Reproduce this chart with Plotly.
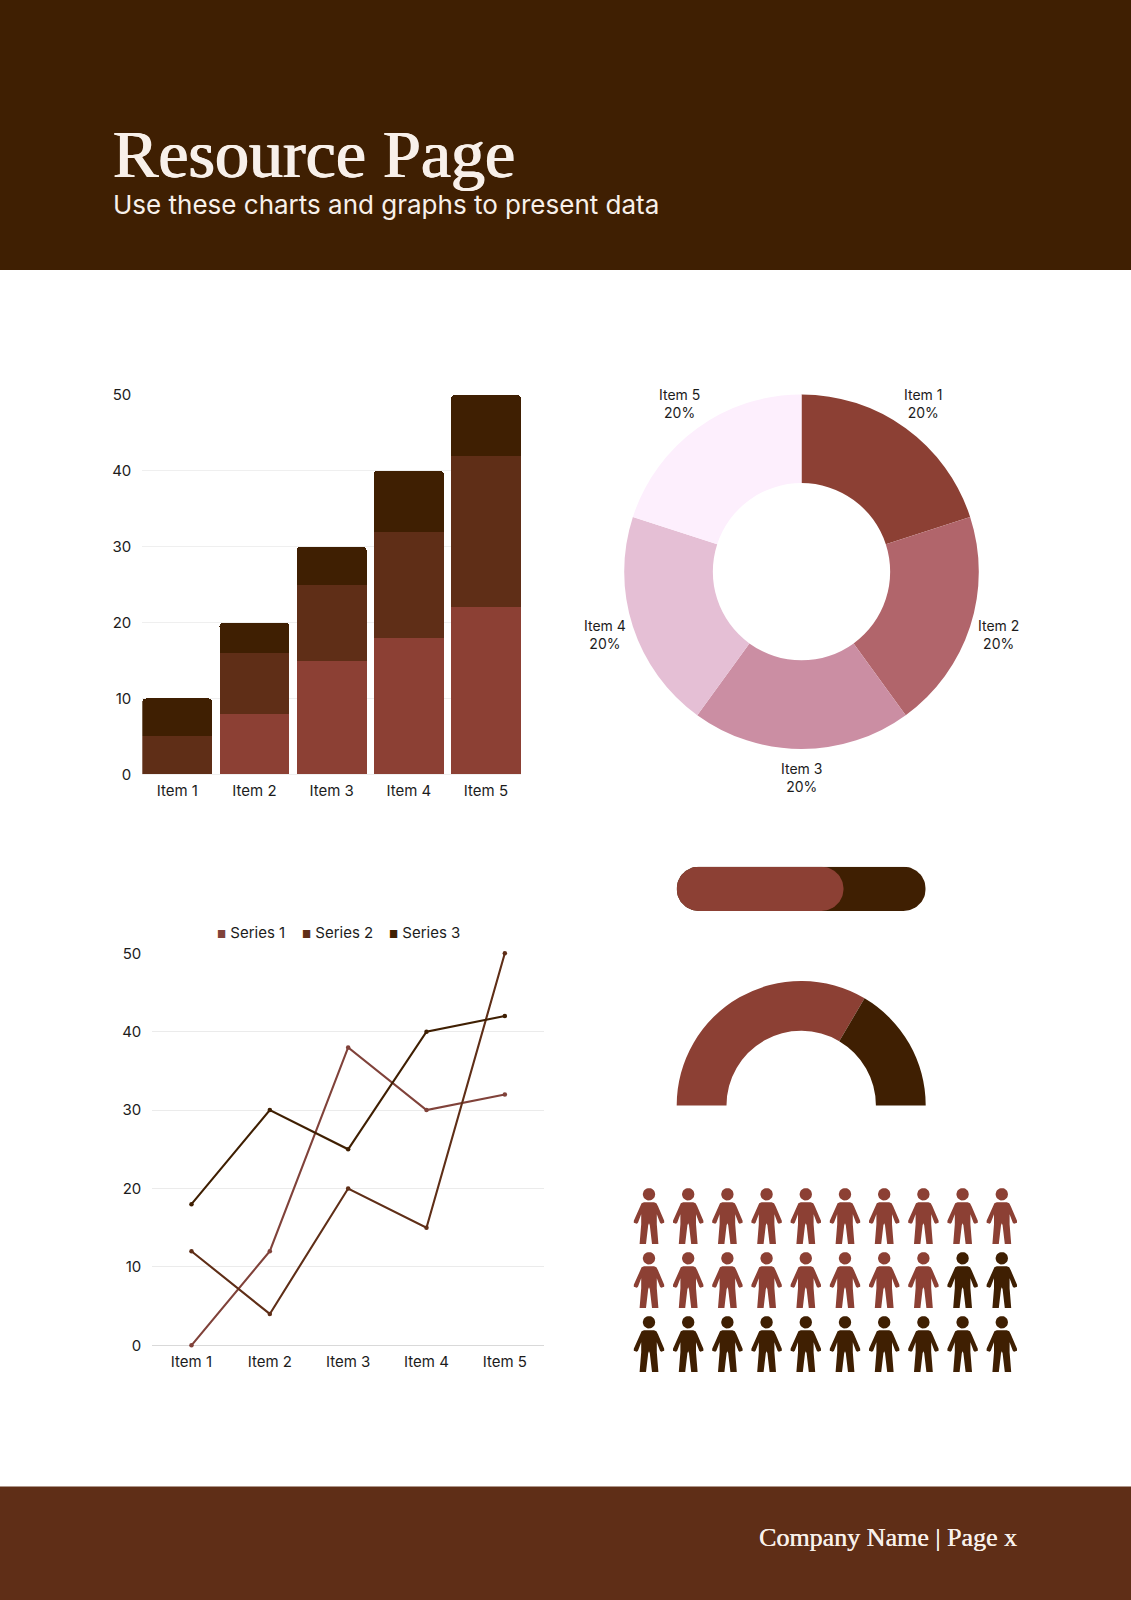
import numpy as np
import plotly.graph_objects as go

W = 1131
H = 1600

# colours
DARK = '#3F1F02'
MID = '#5F2E17'
RED = '#8C4034'
CREAM = '#F8F0EA'
TEXT = '#1C1C1C'
GRID = '#EFEFEF'

# stacked bars
bar_items = ['Item 1', 'Item 2', 'Item 3', 'Item 4', 'Item 5']
bar_series_1 = [0, 8, 15, 18, 22]
bar_series_2 = [5, 8, 10, 14, 20]
bar_series_3 = [5, 4, 5, 8, 8]
y_ticks = [0, 10, 20, 30, 40, 50]

# donut
pie_items = ['Item 1', 'Item 2', 'Item 3', 'Item 4', 'Item 5']
pie_values = [20, 20, 20, 20, 20]
pie_colors = ['#8C4034', '#B1656B', '#CB8EA3', '#E5BFD5', '#FDEFFD']
pie_label_x = [923, 998, 801.5, 605, 679.5]
pie_label_y = [403.5, 634.5, 777.5, 634.5, 403.5]

# lines
line_items = ['Item 1', 'Item 2', 'Item 3', 'Item 4', 'Item 5']
line_names = ['Series 1', 'Series 2', 'Series 3']
line_series_1 = [0, 12, 38, 30, 32]
line_series_2 = [12, 4, 20, 15, 50]
line_series_3 = [18, 30, 25, 40, 42]

# progress, gauge, people
progress_value = 67
gauge_values = [67, 33]
people_total = 30
people_filled = 18
people_per_row = 10


def dom_x(left, right):
    return [left / W, right / W]


def dom_y(top, bottom):
    return [1 - bottom / H, 1 - top / H]


def pill(start, end, rx):
    # rounded bar from start to end on the 0-100 axis, y axis is 0-1
    t = np.linspace(-np.pi / 2, np.pi / 2, 40)
    xs = np.concatenate((end - rx + rx * np.cos(t), start + rx - rx * np.cos(t)))
    ys = np.concatenate((0.5 + 0.5 * np.sin(t), 0.5 - 0.5 * np.sin(t)))
    return xs, ys


def person_outline():
    # one figure in pixels around its own middle, head centre at y = 0
    t = np.linspace(0, 2 * np.pi, 30)
    head_x = 6.2 * np.cos(t)
    head_y = 6.2 * np.sin(t)
    right = [(0, 8), (5, 8), (7.4, 9), (9, 12), (15.2, 26.5), (15.2, 28.4), (12.2, 29.4),
             (11, 28.4), (7.8, 20), (7.8, 30), (9.4, 49.6), (3, 49.6), (0.8, 31), (0, 29)]
    body_x = [p[0] for p in right] + [-p[0] for p in reversed(right)]
    body_y = [p[1] for p in right] + [p[1] for p in reversed(right)]
    return head_x, head_y, np.array(body_x), np.array(body_y)


def people_xy(indices):
    head_x, head_y, body_x, body_y = person_outline()
    xs, ys = [], []
    for i in indices:
        row, col = divmod(i, people_per_row)
        cx = 649 + col * 39.2
        cy = 64 * row
        xs += list(cx + head_x) + [None] + list(cx + body_x) + [None]
        ys += list(cy + head_y) + [None] + list(cy + body_y) + [None]
    return xs, ys


fig = go.Figure()

# stacked bars
for values, color in zip([bar_series_1, bar_series_2, bar_series_3], [RED, MID, DARK]):
    fig.add_trace(go.Bar(x=bar_items, y=values, marker=dict(color=color, line_width=0, cornerradius=4),
                         xaxis='x', yaxis='y', showlegend=False))

# donut
fig.add_trace(go.Pie(labels=pie_items, values=pie_values, hole=0.5, sort=False, direction='clockwise',
                     rotation=0, marker=dict(colors=pie_colors, line_width=0), textinfo='none',
                     domain=dict(x=dom_x(624.2, 978.8), y=dom_y(394.4, 749)), showlegend=False))

# lines
for name, values, color in zip(line_names, [line_series_1, line_series_2, line_series_3], ['#80423A', MID, DARK]):
    fig.add_trace(go.Scatter(x=line_items, y=values, name=name, mode='lines+markers',
                             line=dict(color=color, width=2.1), marker=dict(color=color, size=4.5),
                             xaxis='x2', yaxis='y2', cliponaxis=False, showlegend=False))

# progress bar
px, py = pill(0, 100, 8.9)
fig.add_trace(go.Scatter(x=px, y=py, mode='lines', fill='toself', fillcolor=DARK, line_width=0,
                         xaxis='x3', yaxis='y3', showlegend=False, hoverinfo='skip'))
px, py = pill(0, progress_value, 8.9)
fig.add_trace(go.Scatter(x=px, y=py, mode='lines', fill='toself', fillcolor=RED, line_width=0,
                         xaxis='x3', yaxis='y3', showlegend=False, hoverinfo='skip'))

# gauge, the lower half of the circle stays empty
fig.add_trace(go.Pie(values=gauge_values + [sum(gauge_values)], hole=0.6, sort=False, direction='clockwise',
                     rotation=270, textinfo='none', hoverinfo='skip',
                     marker=dict(colors=[RED, DARK, 'rgba(0,0,0,0)'], line_width=0),
                     domain=dict(x=dom_x(676.7, 925.7), y=dom_y(981, 1230)), showlegend=False))

# people
for indices, color in [(range(people_filled), RED), (range(people_filled, people_total), DARK)]:
    xs, ys = people_xy(indices)
    fig.add_trace(go.Scatter(x=xs, y=ys, mode='lines', fill='toself', fillcolor=color, line_width=0,
                             xaxis='x4', yaxis='y4', showlegend=False, hoverinfo='skip'))

tick_font = dict(family='Inter', size=15, color=TEXT)
hidden = dict(visible=False, fixedrange=True)

fig.update_layout(
    template='none',
    width=W, height=H, margin=dict(l=0, r=0, t=0, b=0), autosize=False,
    paper_bgcolor='white', plot_bgcolor='rgba(0,0,0,0)', barmode='stack', bargap=0.093,
    xaxis=dict(domain=dom_x(142.3, 521), range=[-0.454, 4.454], showgrid=False, showline=False, zeroline=False,
               tickfont=tick_font, ticklabelstandoff=6, ticks='', fixedrange=True),
    yaxis=dict(domain=dom_y(395, 774.3), range=[0, 50], tickvals=y_ticks, gridcolor=GRID, gridwidth=1,
               zeroline=True, zerolinecolor=GRID, tickfont=tick_font, ticklabelstandoff=10, ticks='',
               showline=False, fixedrange=True),
    xaxis2=dict(domain=dom_x(152.3, 544), range=[-0.5, 4.5], showgrid=False, showline=False, zeroline=False,
                tickfont=tick_font, ticklabelstandoff=6, ticks='', fixedrange=True, anchor='y2'),
    yaxis2=dict(domain=dom_y(953.3, 1345.3), range=[0, 50], tickvals=y_ticks, gridcolor='#EBEBEB', gridwidth=1,
                zeroline=True, zerolinecolor='#D9D9D9', tickfont=tick_font, ticklabelstandoff=10, ticks='',
                showline=False, fixedrange=True, anchor='x2'),
    xaxis3=dict(domain=dom_x(676.7, 925.7), range=[0, 100], anchor='y3', **hidden),
    yaxis3=dict(domain=dom_y(866.7, 911), range=[0, 1], anchor='x3', **hidden),
    xaxis4=dict(domain=dom_x(620, 1031), range=[620, 1031], anchor='y4', **hidden),
    yaxis4=dict(domain=dom_y(1180, 1390), range=[195.7, -14.3], anchor='x4', **hidden),
    shapes=[
        dict(type='rect', xref='paper', yref='paper', x0=0, x1=1, y0=1 - 270 / H, y1=1,
             fillcolor=DARK, line_width=0, layer='below'),
        dict(type='rect', xref='paper', yref='paper', x0=0, x1=1, y0=0, y1=1 - 1486.5 / H,
             fillcolor=MID, line_width=0, layer='below'),
    ],
)

# page texts, the shadow gives the serif a bit more weight
fig.add_annotation(text='Resource Page', xref='paper', yref='paper', x=111 / W, y=1 - 153.5 / H,
                   xanchor='left', yanchor='middle', showarrow=False,
                   font=dict(family='Liberation Serif', size=68, color=CREAM,
                             shadow=f'0.7px 0 0 {CREAM}, -0.7px 0 0 {CREAM}'))
fig.add_annotation(text='Use these charts and graphs to present data', xref='paper', yref='paper',
                   x=111 / W, y=1 - 204.5 / H, xanchor='left', yanchor='middle', showarrow=False,
                   font=dict(family='Inter', size=26, color=CREAM))
fig.add_annotation(text='Company Name | Page x', xref='paper', yref='paper', x=1019 / W, y=1 - 1537 / H,
                   xanchor='right', yanchor='middle', showarrow=False,
                   font=dict(family='Liberation Serif', size=26, color=CREAM, shadow=f'0.3px 0 0 {CREAM}'))

# donut labels
for item, value, lx, ly in zip(pie_items, pie_values, pie_label_x, pie_label_y):
    share = round(100 * value / sum(pie_values))
    fig.add_annotation(text=f'{item}<br>{share}%', xref='paper', yref='paper', x=lx / W, y=1 - ly / H,
                       xanchor='center', yanchor='middle', showarrow=False,
                       font=dict(family='Inter', size=14, color=TEXT))

# legend of the line chart
for name, color, left in zip(line_names, ['#80423A', MID, DARK], [215, 299.5, 387]):
    fig.add_annotation(text=f'<span style="color:{color};font-size:10px">■</span> {name}', xref='paper', yref='paper',
                       x=left / W, y=1 - 932 / H, xanchor='left', yanchor='middle', showarrow=False,
                       font=dict(family='Inter', size=15, color=TEXT))

fig.write_html('out.html', config=dict(displayModeBar=False),
               post_script="document.body.style.margin='0';document.body.style.overflow='hidden';")
